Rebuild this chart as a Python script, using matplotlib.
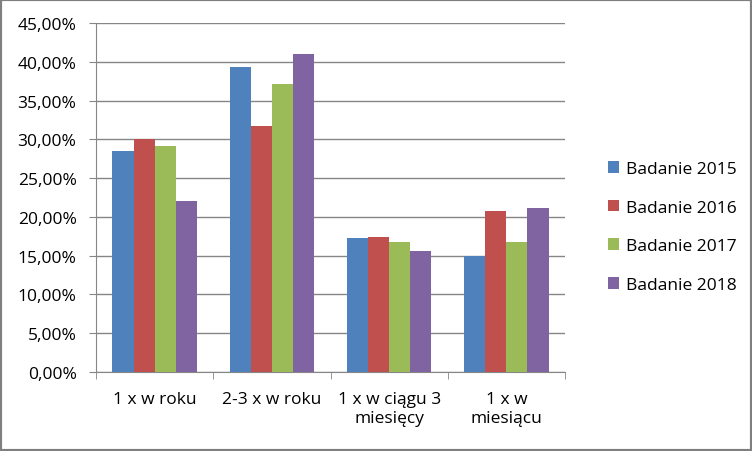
import matplotlib
matplotlib.use("Agg")
import matplotlib.pyplot as plt
import numpy as np
from matplotlib.patches import Rectangle
from matplotlib.ticker import FuncFormatter

categories = ["1 x w roku", "2-3 x w roku", "1 x w ciągu 3\nmiesięcy", "1 x w\nmiesiącu"]
series_names = ["Badanie 2015", "Badanie 2016", "Badanie 2017", "Badanie 2018"]
b2015 = [28.5, 39.3, 17.3, 15.0]
b2016 = [30.0, 31.7, 17.4, 20.8]
b2017 = [29.2, 37.1, 16.8, 16.8]
b2018 = [22.1, 41.0, 15.6, 21.2]
yticks = [0, 5, 10, 15, 20, 25, 30, 35, 40, 45]
colors = ["#4F81BD", "#C0504D", "#9BBB59", "#8064A2"]

plt.rcParams['font.family'] = ['Open Sans', 'DejaVu Sans']

W, H = 752, 452
fig = plt.figure(figsize=(W/100, H/100), dpi=100)
ax = fig.add_axes([96/W, 1-373/H, (565-96)/W, (373-24)/H])

x = np.arange(len(categories))
width = 0.18
data = [b2015, b2016, b2017, b2018]
for i, (vals, name, c) in enumerate(zip(data, series_names, colors)):
    ax.bar(x + (i - 1.5) * width, vals, width, color=c, label=name, zorder=3)

fs = 12.5
ax.set_xlim(-0.5, len(categories) - 0.5)
ax.set_ylim(0, 45)
ax.set_yticks(yticks)
ax.yaxis.set_major_formatter(FuncFormatter(lambda v, p: f"{v:.2f}%".replace(".", ",")))
ax.grid(axis='y', color='#868686', linewidth=1, zorder=0)
for s in ['top', 'right']:
    ax.spines[s].set_visible(False)
ax.spines['left'].set_color('#868686')
ax.spines['bottom'].set_color('#868686')
ax.tick_params(axis='y', length=5, color='#868686', labelsize=fs, pad=9)
ax.set_xticks(x)
ax.set_xticklabels(categories, fontsize=fs, linespacing=1.25)
ax.tick_params(axis='x', length=0, pad=14)
ax.set_xticks(np.arange(-0.5, len(categories), 1), minor=True)
ax.tick_params(axis='x', which='minor', length=5, color='#868686')

leg = ax.legend(loc='center left', bbox_to_anchor=(592/W, 1-228/H), bbox_transform=fig.transFigure,
                frameon=False, fontsize=fs, handlelength=0.65, handleheight=0.65,
                labelspacing=1.3, handletextpad=0.4)

fig.patches.append(Rectangle((0, 0), 1, 1, transform=fig.transFigure, fill=False,
                             edgecolor='#7f7f7f', linewidth=3))
fig.savefig("out.png", dpi=100)
